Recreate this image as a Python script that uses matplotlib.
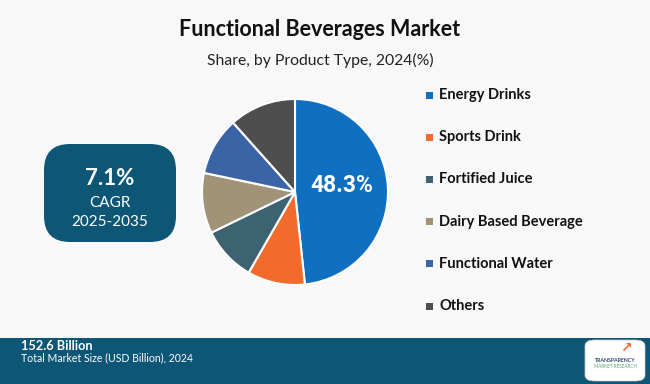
import matplotlib.pyplot as plt
from matplotlib.patches import FancyBboxPatch, Rectangle

# shares, clockwise from the top
segments = ["Energy Drinks", "Sports Drink", "Fortified Juice",
            "Dairy Based Beverage", "Functional Water", "Others"]
shares = [48.3, 10.0, 9.5, 10.5, 10.1, 11.6]
colors = ["#0F6FC0", "#F26B2B", "#3D6272", "#A09378", "#3B64A6", "#4E4E4E"]

cagr = "7.1%"
cagr_period = "2025-2035"
market_size = "152.6 Billion"

W, H = 650, 384
fig = plt.figure(figsize=(6.5, 3.84), dpi=100, facecolor="#F8F8F8")


def fx(x):
    return x / W


def fy(y):
    return 1 - y / H


# pie
cx, cy, r = 295, 192, 93
ax = fig.add_axes([fx(cx - r), fy(cy + r), 2 * r / W, 2 * r / H])
ax.pie(shares, colors=colors, startangle=90, counterclock=False,
       wedgeprops=dict(edgecolor="white", linewidth=1.5))
ax.set_xlim(-1, 1)
ax.set_ylim(-1, 1)
ax.axis("off")
ax.text(0.5, 0.07, f"{shares[0]}%", ha="center", va="center", color="white",
        fontsize=16.5, fontweight="bold", family="Roboto")

# titles
fig.text(fx(320), fy(30), "Functional Beverages Market", ha="center", va="center",
         fontsize=15.5, fontweight="bold", family="Lato", color="#111111")
fig.text(fx(320), fy(60), "Share, by Product Type, 2024(%)", ha="center", va="center",
         fontsize=11.3, family="Lato", color="#222222")

# legend
for i, (name, col) in enumerate(zip(segments, colors)):
    y = 95 + i * 42.2
    fig.patches.append(Rectangle((fx(426), fy(y + 3.5)), 7 / W, 7 / H,
                                 transform=fig.transFigure, facecolor=col, edgecolor="none"))
    fig.text(fx(439), fy(y), name, ha="left", va="center", fontsize=10.5,
             fontweight="bold", family="Lato", color="#111111")

# CAGR box
fig.patches.append(FancyBboxPatch((fx(44), fy(242)), 132 / W, 98 / H,
                                  boxstyle="round,pad=0,rounding_size=0.04",
                                  transform=fig.transFigure, facecolor="#0D5676",
                                  edgecolor="none", mutation_aspect=W / H))
fig.text(fx(110), fy(179), cagr, ha="center", va="center", color="white",
         fontsize=16, fontweight="bold", family="Lato")
fig.text(fx(110), fy(203), "CAGR", ha="center", va="center", color="white",
         fontsize=11, family="Lato")
fig.text(fx(110), fy(222), cagr_period, ha="center", va="center", color="white",
         fontsize=11, family="Lato")

# footer band
fig.patches.append(Rectangle((0, 0), 1, 46 / H, transform=fig.transFigure,
                             facecolor="#0D5676", edgecolor="none"))
fig.text(fx(21), fy(346), market_size, ha="left", va="center", color="white",
         fontsize=9.2, fontweight="bold", family="Lato")
fig.text(fx(21), fy(358), "Total Market Size (USD Billion), 2024", ha="left", va="center",
         color="white", fontsize=7.6, family="Lato")

# logo
fig.patches.append(FancyBboxPatch((fx(585), fy(381)), 60 / W, 41 / H,
                                  boxstyle="round,pad=0,rounding_size=0.015",
                                  transform=fig.transFigure, facecolor="white",
                                  edgecolor="#CCCCCC", linewidth=0.5))
fig.text(fx(615), fy(360), "TRANSPARENCY", ha="center", va="center", fontsize=3.8,
         fontweight="bold", color="#2A4A6A", family="Lato")
fig.text(fx(615), fy(367), "MARKET RESEARCH", ha="center", va="center", fontsize=3.3,
         color="#5AAA70", family="Lato")
fig.text(fx(626), fy(348), "\u2197", ha="center", va="center", fontsize=10,
         color="#F26B2B", fontweight="bold")

fig.savefig("out.png", dpi=100, facecolor=fig.get_facecolor())
